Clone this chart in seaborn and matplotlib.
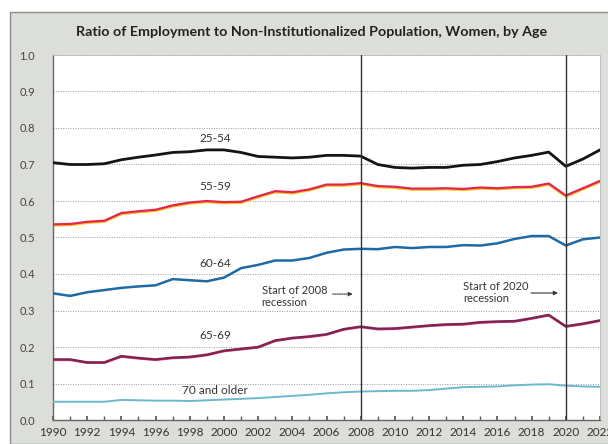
import numpy as np
import pandas as pd
import matplotlib
matplotlib.use("Agg")
import matplotlib.pyplot as plt
from matplotlib.patches import Rectangle
import seaborn as sns

years = list(range(1990, 2023))

age_25_54 = [0.705, 0.700, 0.700, 0.702, 0.713, 0.720, 0.726, 0.733, 0.735, 0.740,
             0.740, 0.733, 0.722, 0.720, 0.718, 0.720, 0.725, 0.725, 0.723, 0.700,
             0.692, 0.690, 0.692, 0.692, 0.698, 0.700, 0.708, 0.718, 0.725, 0.734,
             0.695, 0.715, 0.740]
age_55_59 = [0.536, 0.537, 0.543, 0.546, 0.567, 0.572, 0.576, 0.588, 0.596, 0.600,
             0.597, 0.598, 0.613, 0.627, 0.624, 0.632, 0.645, 0.645, 0.649, 0.641,
             0.639, 0.634, 0.634, 0.635, 0.633, 0.637, 0.635, 0.638, 0.639, 0.648,
             0.615, 0.635, 0.655]
age_60_64 = [0.347, 0.340, 0.350, 0.356, 0.362, 0.366, 0.369, 0.386, 0.383, 0.380,
             0.390, 0.416, 0.425, 0.437, 0.437, 0.444, 0.458, 0.467, 0.469, 0.468,
             0.474, 0.471, 0.474, 0.474, 0.479, 0.478, 0.484, 0.496, 0.504, 0.504,
             0.478, 0.495, 0.500]
age_65_69 = [0.166, 0.166, 0.158, 0.158, 0.175, 0.170, 0.166, 0.171, 0.173, 0.179,
             0.190, 0.195, 0.200, 0.218, 0.225, 0.229, 0.235, 0.249, 0.256, 0.250,
             0.251, 0.255, 0.259, 0.262, 0.263, 0.268, 0.270, 0.271, 0.279, 0.288,
             0.257, 0.264, 0.273]
age_70_up = [0.050, 0.050, 0.050, 0.050, 0.055, 0.054, 0.053, 0.053, 0.052, 0.054,
             0.056, 0.058, 0.060, 0.063, 0.066, 0.069, 0.073, 0.076, 0.078, 0.079,
             0.080, 0.080, 0.082, 0.086, 0.090, 0.091, 0.092, 0.095, 0.097, 0.098,
             0.094, 0.092, 0.091]

series_names = ["25-54", "55-59", "60-64", "65-69", "70 and older"]
series_values = [age_25_54, age_55_59, age_60_64, age_65_69, age_70_up]
series_colors = ["#141414", "#e3264f", "#1f6aa5", "#7e2352", "#6cb8cf"]
series_widths = [2.0, 1.6, 1.8, 1.7, 1.4]
label_pos = [(1999.5, 0.772), (1999.5, 0.640), (1999.5, 0.428), (1999.5, 0.232), (1999.5, 0.080)]

recession_years = [2008, 2020]
recession_labels = ["Start of 2008\nrecession", "Start of 2020\nrecession"]

df = pd.DataFrame({
    "Year": np.tile(years, len(series_names)),
    "Ratio": np.concatenate(series_values),
    "Age": np.repeat(series_names, len(years)),
})

sns.set_theme(style="white")
plt.rcParams["font.family"] = ["Lato", "DejaVu Sans"]

fig = plt.figure(figsize=(6.08, 4.44), dpi=100)
fig.patch.set_facecolor("white")
fig.patches.append(Rectangle((10 / 608, 0), 1, 1 - 12 / 444, transform=fig.transFigure,
                             facecolor="#dcdfd9", edgecolor="#8a8d88", lw=1.0, zorder=-10))

ax = fig.add_axes([53 / 608, 1 - 420 / 444, (600 - 53) / 608, (420 - 55) / 444])
ax.set_facecolor("white")

# thin yellow edge under the 55-59 line
ax.plot(years, [v - 0.003 for v in age_55_59], color="#f2c417", lw=1.6, zorder=2)
# pink edge under the 65-69 line
ax.plot(years, [v - 0.002 for v in age_65_69], color="#e0447e", lw=1.4, zorder=2)

sns.lineplot(data=df, x="Year", y="Ratio", hue="Age", hue_order=series_names,
             palette=series_colors, size="Age", sizes=dict(zip(series_names, series_widths)),
             legend=False, ax=ax, zorder=3)

for name, (lx, ly) in zip(series_names, label_pos):
    ax.text(lx, ly, name, ha="center", va="center", fontsize=8.5, color="#333333")

for yr in recession_years:
    ax.axvline(yr, color="#333333", lw=1.0, zorder=4)

ax.text(2002.2, 0.338, recession_labels[0], ha="left", va="center", fontsize=8,
        color="#333333", linespacing=1.15)
ax.annotate("", xy=(2007.7, 0.345), xytext=(2006.2, 0.345),
            arrowprops=dict(arrowstyle="-|>", color="#333333", lw=0.8, ls=(0, (1, 1)),
                            mutation_scale=6))
ax.text(2014.0, 0.350, recession_labels[1], ha="left", va="center", fontsize=8,
        color="#333333", linespacing=1.15)
ax.annotate("", xy=(2019.7, 0.348), xytext=(2017.8, 0.348),
            arrowprops=dict(arrowstyle="-|>", color="#333333", lw=0.8,
                            mutation_scale=6))

ax.set_xlim(1990, 2022)
ax.set_ylim(0, 1.0)
ax.set_xticks(range(1990, 2023, 2))
ax.set_xticks(range(1990, 2023), minor=True)
ax.set_yticks(np.arange(0, 1.01, 0.1))
ax.set_yticklabels([f"{v:.1f}" for v in np.arange(0, 1.01, 0.1)])
ax.yaxis.grid(True, color="#9a9a9a", lw=0.7, ls=(0, (1, 1.5)))
ax.set_axisbelow(True)
ax.tick_params(axis="x", which="both", direction="in", length=3, color="#555555",
               labelsize=8.5, labelcolor="#333333", pad=5, bottom=True)
ax.tick_params(axis="y", length=0, labelsize=8, labelcolor="#444444", pad=13)
ax.set_xlabel("")
ax.set_ylabel("")
for side in ["left", "bottom"]:
    ax.spines[side].set_color("#666666")
    ax.spines[side].set_linewidth(1.0)
for side in ["top", "right"]:
    ax.spines[side].set_color("#bbbbbb")
    ax.spines[side].set_linewidth(0.6)

fig.text(312 / 608, 1 - 32 / 444, "Ratio of Employment to Non-Institutionalized Population, Women, by Age",
         ha="center", va="center", fontsize=10.3, fontweight="bold", color="#222222")

fig.savefig("out.png", dpi=100)
